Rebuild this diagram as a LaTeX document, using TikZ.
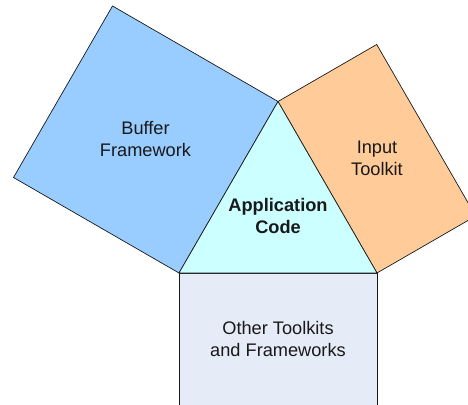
\documentclass[tikz,border=0pt]{standalone}
\usepackage{fontspec}
\setmainfont{Liberation Sans}

\definecolor{bufferblue}{HTML}{99CCFF}
\definecolor{inputorange}{HTML}{FFCC99}
\definecolor{appcyan}{HTML}{CCFFFF}
\definecolor{othergray}{HTML}{E6ECF7}

\tikzset{
    panel/.style={draw=black!90, line width=0.7pt, line join=miter},
    caption/.style={align=center, text=black!90,
        font=\fontsize{18.2}{22}\selectfont}
}

\begin{document}
\begin{tikzpicture}[x=1pt, y=-1pt]
    \useasboundingbox (0,0) rectangle (468,404);
    \clip (0,0) rectangle (468,404);

    % Corners of the triangle
    \coordinate (left) at (179,273);
    \coordinate (right) at (377,273);
    \coordinate (top) at (278,101.5);

    % Buffer Framework
    \draw[panel, fill=bufferblue]
        (left) -- (top)
        -- ++(-165.5,-95.5)
        -- ++(-99,171.5)
        -- cycle;

    % Input Toolkit
    \draw[panel, fill=inputorange]
        (top) -- (right)
        -- ++(98.7,-57)
        -- ++(-99,-171.5)
        -- cycle;

    % Other Toolkits
    \draw[panel, fill=othergray]
        (left) rectangle ++(198,140);

    % Application Code
    \draw[panel, fill=appcyan]
        (left) -- (right) -- (top) -- cycle;

    \node[caption] (buffer) at (145.5,139) {Buffer\\Framework};
    \node[caption] (input) at (377,158) {Input\\Toolkit};
    \node[caption, font=\fontsize{18.2}{22}\selectfont\bfseries] (app) at (278,216) {Application\\Code};
    \node[caption] (other) at (278,339) {Other Toolkits\\and Frameworks};

\end{tikzpicture}
\end{document}
